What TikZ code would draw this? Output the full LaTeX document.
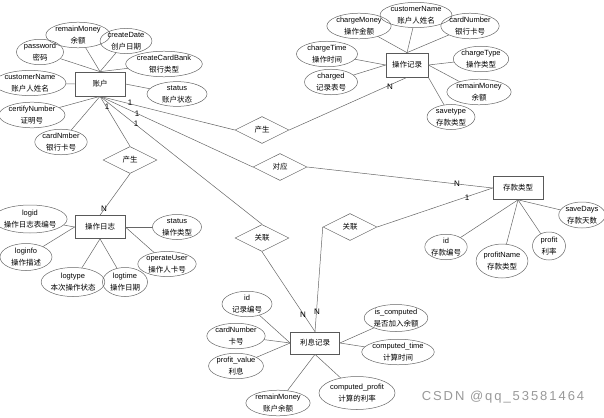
\documentclass[tikz,border=0pt]{standalone}
\usepackage{fontspec}
\setmainfont{Liberation Sans}
\newfontfamily\cjk{Noto Sans CJK SC}
\usepackage{tikz}
\usetikzlibrary{shapes.geometric}
\newcommand{\zhtext}[1]{{\cjk #1}}
\tikzset{
  entity/.style={draw=black!65,line width=0.7pt,fill=white,minimum width=50pt,minimum height=24pt,inner sep=0pt,font=\fontsize{7.5}{8}\selectfont},
  attr/.style={ellipse,draw=black!60,line width=0.5pt,minimum width=50pt,minimum height=24pt,inner sep=0pt,align=center,font=\fontsize{7.5}{12}\selectfont},
  rel/.style={diamond,draw=black!60,line width=0.5pt,minimum width=54pt,minimum height=27pt,inner sep=0pt,font=\fontsize{7.5}{8}\selectfont},
  card/.style={inner sep=0pt,font=\fontsize{8}{8}\selectfont},
  link/.style={draw=black!60,line width=0.5pt}
}

\begin{document}
\begin{tikzpicture}[x=1pt,y=-1pt,line cap=round]
        \useasboundingbox (0,0) rectangle (604,417);
        % the entities
        \node[entity] (zh) at (100,84) {\zhtext{账户}};
        \node[entity,minimum width=42pt] (czjl) at (407,65) {\zhtext{操作记录}};
        \node[entity,minimum height=23pt] (czrz) at (100,227) {\zhtext{操作日志}};
        \node[entity,minimum height=23pt] (cklx) at (518,188) {\zhtext{存款类型}};
        \node[entity,minimum width=49pt,minimum height=22pt] (lxjl) at (315,343) {\zhtext{利息记录}};
        % the relations
        \node[rel] (cs1) at (262,130) {\zhtext{产生}};
        \node[rel] (cs2) at (130,160) {\zhtext{产生}};
        \node[rel] (dy) at (280,167) {\zhtext{对应}};
        \node[rel] (gl1) at (262,238) {\zhtext{关联}};
        \node[rel] (gl2) at (350,227) {\zhtext{关联}};
        % attributes of zh
        \node[attr,minimum width=47pt,minimum height=23pt] (zpwd) at (40,52) {password\\\zhtext{密码}};
        \node[attr,minimum height=22pt] (zrm) at (78,35) {remainMoney\\\zhtext{余额}};
        \node[attr,minimum width=44pt] (zcd) at (126,41) {createDate\\\zhtext{创户日期}};
        \node[attr,minimum width=58pt,minimum height=22pt] (zccb) at (164,64) {createCardBank\\\zhtext{银行类型}};
        \node[attr,minimum width=60pt,minimum height=22pt] (zcn) at (30,83) {customerName\\\zhtext{账户人姓名}};
        \node[attr,minimum width=60pt] (zst) at (177,94) {status\\\zhtext{账户状态}};
        \node[attr,minimum width=60pt] (zcert) at (32,115) {certifyNumber\\\zhtext{证明号}};
        \node[attr,minimum width=44pt,minimum height=21pt] (zcard) at (61,142) {cardNmber\\\zhtext{银行卡号}};
        % attributes of czjl
        \node[attr,minimum width=52pt,minimum height=22pt] (crm) at (359,26) {chargeMoney\\\zhtext{操作金额}};
        \node[attr,minimum width=58pt] (ccn) at (416,15) {customerName\\\zhtext{账户人姓名}};
        \node[attr,minimum width=47pt,minimum height=22pt] (ccard) at (470,26) {cardNumber\\\zhtext{银行卡号}};
        \node[attr,minimum width=61pt,minimum height=22pt] (cct) at (327,54) {chargeTime\\\zhtext{操作时间}};
        \node[attr,minimum width=48pt,minimum height=25pt] (cctype) at (481,59) {chargeType\\\zhtext{操作类型}};
        \node[attr,minimum width=53pt,minimum height=23pt] (ccid) at (331,82) {charged\\\zhtext{记录表号}};
        \node[attr,minimum width=48pt,minimum height=25pt] (crem) at (479,92) {remainMoney\\\zhtext{余额}};
        \node[attr,minimum width=48pt,minimum height=25pt] (csave) at (451,117) {savetype\\\zhtext{存款类型}};
        % attributes of czrz
        \node[attr,minimum width=60pt,minimum height=28pt] (rid) at (30,219) {logid\\\zhtext{操作日志表编号}};
        \node[attr,minimum width=52pt,minimum height=27pt] (rinfo) at (26,257) {loginfo\\\zhtext{操作描述}};
        \node[attr,minimum width=49pt,minimum height=25pt] (rst) at (177,227) {status\\\zhtext{操作类型}};
        \node[attr,minimum width=49pt,minimum height=25pt] (rop) at (167,264) {operateUser\\\zhtext{操作人卡号}};
        \node[attr,minimum width=50pt,minimum height=29pt] (rtype) at (73,282) {logtype\\\zhtext{本次操作状态}};
        \node[attr,minimum width=45pt,minimum height=29pt] (rtime) at (125,282) {logtime\\\zhtext{操作日期}};
        % attributes of cklx
        \node[attr,minimum width=40pt,minimum height=25pt] (kid) at (446,247) {id\\\zhtext{存款编号}};
        \node[attr,minimum width=45pt,minimum height=34pt] (kname) at (502,261) {profitName\\\zhtext{存款类型}};
        \node[attr,minimum width=33pt,minimum height=28pt] (kprof) at (549,246) {profit\\\zhtext{利率}};
        \node[attr,minimum width=33pt,minimum height=26pt] (kdays) at (582,215) {saveDays\\\zhtext{存款天数}};
        % attributes of lxjl
        \node[attr,minimum height=25pt] (lid) at (247,304) {id\\\zhtext{记录编号}};
        \node[attr,minimum width=52pt,minimum height=23pt] (lcard) at (236,336) {cardNumber\\\zhtext{卡号}};
        \node[attr,minimum width=52pt,minimum height=23pt] (lpv) at (236,366) {profit\_value\\\zhtext{利息}};
        \node[attr,minimum height=23pt] (lrm) at (278,403) {remainMoney\\\zhtext{账户余额}};
        \node[attr,minimum width=69pt,minimum height=33pt] (lcp) at (357,393) {computed\_profit\\\zhtext{计算的利率}};
        \node[attr,minimum width=52pt,minimum height=27pt] (lisc) at (396,318) {is\_computed\\\zhtext{是否加入余额}};
        \node[attr,minimum width=70pt,minimum height=25pt] (lct) at (398,352) {computed\_time\\\zhtext{计算时间}};
        % lines from attributes to entities
        \foreach \a in {zpwd,zrm,zcd,zccb} \draw[link] (\a) -- (zh.north);
        \draw[link] (zcn) -- (zh.west);
        \draw[link] (zst) -- (zh.east);
        \foreach \a in {zcert,zcard} \draw[link] (\a) -- (zh.south);
        \foreach \a in {crm,ccn,ccard} \draw[link] (\a) -- (czjl.north);
        \foreach \a in {cct,ccid} \draw[link] (\a) -- (czjl.west);
        \foreach \a in {cctype,crem} \draw[link] (\a) -- (czjl.east);
        \draw[link] (csave) -- (czjl.south east);
        \foreach \a in {rid,rinfo} \draw[link] (\a) -- (czrz.west);
        \foreach \a in {rst,rop} \draw[link] (\a) -- (czrz.east);
        \foreach \a in {rtype,rtime} \draw[link] (\a) -- (czrz.south);
        \foreach \a in {kid,kname,kprof,kdays} \draw[link] (\a) -- (cklx.south);
        \foreach \a in {lid,lcard,lpv} \draw[link] (\a) -- (lxjl.west);
        \foreach \a in {lrm,lcp} \draw[link] (\a) -- (lxjl.south);
        \foreach \a in {lisc,lct} \draw[link] (\a) -- (lxjl.east);
        % lines through the relations
        \draw[link] (zh.south) -- (cs1.west);
        \draw[link] (cs1.east) -- (czjl.south);
        \draw[link] (zh.south) -- (cs2.north);
        \draw[link] (cs2.south) -- (czrz.north);
        \draw[link] (zh.south) -- (dy.west);
        \draw[link] (dy.east) -- (cklx.west);
        \draw[link] (zh.south) -- (gl1.north);
        \draw[link] (gl1.south) -- (lxjl.north);
        \draw[link] (gl2.west) -- (lxjl.north);
        \draw[link] (gl2.east) -- (cklx.west);
        % cardinalities
        \node[card] (n1) at (130,103) {1};
        \node[card] (n2) at (137,114) {1};
        \node[card] (n3) at (136,124) {1};
        \node[card] (n4) at (107,107) {1};
        \node[card] (n5) at (390,87) {N};
        \node[card] (n6) at (104,209) {N};
        \node[card] (n7) at (457,184) {N};
        \node[card] (n8) at (467,198) {1};
        \node[card] (n9) at (303,315) {N};
        \node[card] (n10) at (317,312) {N};
        % watermark
        \node[text=black!40,font=\fontsize{13}{13}\selectfont\addfontfeature{LetterSpace=15}] (wm) at (503,397) {CSDN @qq\_53581464};
\end{tikzpicture}
\end{document}
